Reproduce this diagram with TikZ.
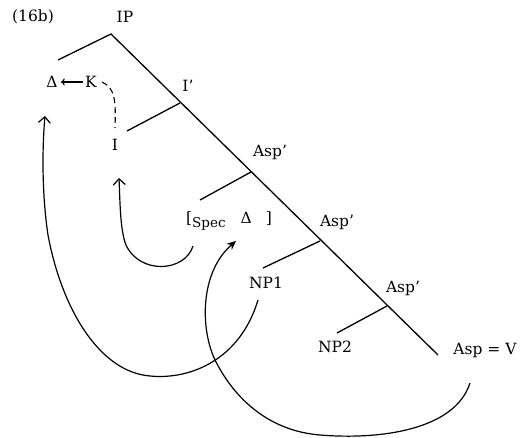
\documentclass[tikz,border=0pt]{standalone}
\usepackage{fontspec}
\setmainfont{DejaVu Serif}
\usetikzlibrary{arrows.meta}
\begin{document}
\begin{tikzpicture}[x=1pt,y=-1pt,
  lab/.style={inner sep=0pt, font=\fontsize{15.5}{18}\selectfont},
  tree/.style={line width=1.3pt},
  curve/.style={line width=1.2pt},
  barb/.style={-{Straight Barb[length=6pt,width=12pt,line width=1.2pt]}},
  solidtip/.style={-{Stealth[length=9pt,width=8pt]}}]
\useasboundingbox (0,0) rectangle (520,438);
% labels
\node[lab] (ex) at (33,17) {(16b)};
\node[lab] (IP) at (125,17) {IP};
\node[lab] (D) at (52,82) {Δ};
\node[lab] (K) at (91,82) {K};
\node[lab] (Ibar) at (188,86) {I'};
\node[lab] (I) at (115,145) {I};
\node[lab] (A1) at (270,152) {Asp'};
\node[lab] (S) at (229,221) {[\raisebox{-4pt}{\fontsize{13.5}{16}\selectfont Spec}\hspace{15pt}Δ\hspace{14pt}]};
\node[lab] (A2) at (337,222) {Asp'};
\node[lab] (NP1) at (266,283) {NP1};
\node[lab] (A3) at (403,288) {Asp'};
\node[lab] (NP2) at (335,347) {NP2};
\node[lab] (V) at (485,350) {Asp = V};
% tree points
\coordinate (ip) at (111,34);
\coordinate (ipL) at (58,60);
\coordinate (ib) at (180,103);
\coordinate (ibL) at (127,131);
\coordinate (a1) at (251,172);
\coordinate (a1L) at (200,200);
\coordinate (a2) at (320,241);
\coordinate (a2L) at (263,268);
\coordinate (a3) at (387,306);
\coordinate (a3L) at (337,333);
\coordinate (vend) at (438,355);
\draw[tree] (ipL) -- (ip) -- (vend);
\draw[tree] (ib) -- (ibL);
\draw[tree] (a1) -- (a1L);
\draw[tree] (a2) -- (a2L);
\draw[tree] (a3) -- (a3L);
% K -> Delta
\draw[line width=1.1pt, -{To[length=4pt,width=7pt]}, shorten >=3pt, shorten <=2pt] (K.west) -- (D.east);
% dashed K ... I
\coordinate (ks) at (102,82);
\coordinate (it) at (115,128);
\draw[line width=1.1pt, dash pattern=on 6pt off 4pt] (ks) .. controls (115,88) and (116,100) .. (it);
% curve Spec -> I
\coordinate (sb) at (193,246);
\coordinate (itip) at (119,178);
\draw[curve, barb] (sb) .. controls (185,272) and (140,275) .. (126,245) .. controls (120,230) and (120,200) .. (itip);
% curve NP1 -> Delta
\coordinate (np1b) at (258,300);
\coordinate (dtip) at (45,116);
\draw[curve, barb] (np1b) .. controls (240,360) and (190,380) .. (150,376) .. controls (100,372) and (62,310) .. (48,235) .. controls (42,195) and (42,150) .. (dtip);
% curve Asp=V -> Spec Delta
\coordinate (vb) at (470,383);
\coordinate (stip) at (236,241);
\draw[curve, solidtip] (vb) .. controls (455,430) and (380,440) .. (320,435) .. controls (270,431) and (235,400) .. (215,360) .. controls (200,328) and (200,272) .. (stip);
\end{tikzpicture}
\end{document}
